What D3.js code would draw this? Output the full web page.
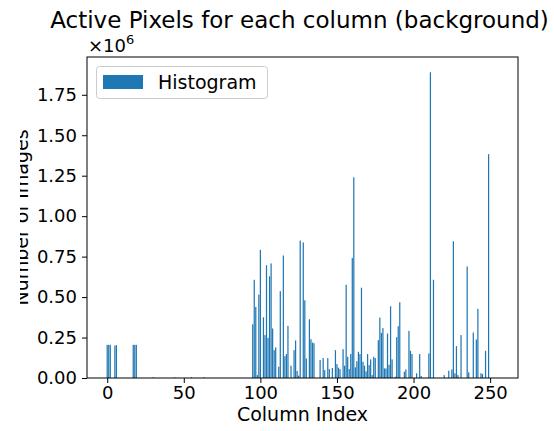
<!DOCTYPE html>
<html>
<head>
<meta charset="utf-8">
<script src="https://cdn.jsdelivr.net/npm/d3@7"></script>
<style>
  body { margin: 0; background: #fff; }
  text { font-family: "DejaVu Sans", sans-serif; fill: #000; }
</style>
</head>
<body>
<svg id="chart" width="554" height="431"></svg>
<script>
// Columns (0..255) that have any active background pixels, and their counts.
const activeColumns = [
  0, 1, 2, 5, 6, 17, 18, 19, 30, 44, 55, 63,
  95, 96, 97, 98, 99, 100, 102, 103, 104, 105, 106, 107, 108, 109, 110,
  112, 113, 115, 116, 117, 118, 120, 122, 123, 124, 125, 126, 128, 129,
  130, 132, 133, 134, 135, 139, 141, 142, 144, 145, 147, 149, 150, 151,
  152, 154, 155, 156, 157, 158, 159, 160, 161, 162, 163, 164, 165, 166,
  167, 168, 169, 170, 171, 172, 173, 174, 175, 177, 178, 179, 180, 181,
  182, 183, 184, 185, 186, 188, 189, 190, 191, 194, 195, 197, 198, 199,
  202, 204, 205, 210, 211, 213, 220, 223, 225, 226, 227, 228, 229, 231,
  235, 236, 239, 241, 242, 244, 245, 247, 249
];
const activeCounts = [
  205000, 205000, 205000, 200000, 203000, 205000, 205000, 205000, 5000, 4000, 5000, 4000,
  332000, 607000, 439000, 18000, 515000, 792000, 375000, 265000, 697000, 248000, 628000, 708000, 306000, 172000, 189000,
  70000, 537000, 757000, 135000, 148000, 322000, 76000, 172000, 232000, 43000, 15000, 849000, 838000, 480000,
  121000, 363000, 240000, 219000, 215000, 111000, 123000, 49000, 123000, 55000, 62000, 172000, 86000, 64000,
  55000, 178000, 76000, 576000, 131000, 55000, 148000, 742000, 1240000, 66000, 103000, 162000, 148000, 558000,
  100000, 76000, 41000, 148000, 80000, 115000, 18000, 131000, 123000, 234000, 373000, 279000, 308000, 59000,
  59000, 275000, 82000, 443000, 115000, 8000, 252000, 320000, 468000, 39000, 53000, 291000, 168000, 148000,
  29000, 148000, 12000, 152000, 1889000, 607000, 18000, 45000, 53000, 845000, 29000, 197000, 18000, 265000,
  689000, 35000, 281000, 238000, 427000, 29000, 25000, 168000, 1383000
];
const columnCount = 256;
const xTicks = [0, 50, 100, 150, 200, 250];
const yTicks = [0, 250000, 500000, 750000, 1000000, 1250000, 1500000, 1750000];

const titleText = "Active Pixels for each column (background)";
const xLabelText = "Column Index";
const yLabelText = "Number of Images";
const legendText = "Histogram";
const barColor = "#1f77b4";

const bars = activeColumns.map((c, i) => ({ col: c, count: activeCounts[i] }));

const svg = d3.select("#chart");
const plot = { left: 87, right: 518, top: 57, bottom: 378 };

// bar width 0.8 with 5% padding on each side of the data span
const barW = 0.8;
const lo = -barW / 2, hi = (columnCount - 1) + barW / 2;
const pad = (hi - lo) * 0.05;
const x = d3.scaleLinear().domain([lo - pad, hi + pad]).range([plot.left, plot.right]);
const yMax = d3.max(activeCounts) * 1.05;
const y = d3.scaleLinear().domain([0, yMax]).range([plot.bottom, plot.top]);

svg.append("rect").attr("width", 554).attr("height", 431).attr("fill", "#fff");

// bars
svg.append("g").selectAll("rect").data(bars).join("rect")
  .attr("x", d => x(d.col - barW / 2))
  .attr("width", d => x(d.col + barW / 2) - x(d.col - barW / 2))
  .attr("y", d => y(d.count))
  .attr("height", d => y(0) - y(d.count))
  .attr("fill", barColor);

// axes
const fmtY = v => (v / 1e6).toFixed(2);
const xAxis = svg.append("g")
  .attr("transform", `translate(0,${plot.bottom})`)
  .call(d3.axisBottom(x).tickValues(xTicks).tickSize(5).tickPadding(3).tickFormat(d3.format("d")));
const yAxis = svg.append("g")
  .attr("transform", `translate(${plot.left},0)`)
  .call(d3.axisLeft(y).tickValues(yTicks).tickSize(5).tickPadding(5).tickFormat(fmtY));
[xAxis, yAxis].forEach(g => {
  g.select(".domain").remove();
  g.selectAll(".tick line").attr("stroke", "#000").attr("stroke-width", 1);
  g.selectAll(".tick text").attr("font-size", 18).attr("font-family", "DejaVu Sans").attr("fill", "#000");
});

// frame
svg.append("rect")
  .attr("x", plot.left).attr("y", plot.top)
  .attr("width", plot.right - plot.left).attr("height", plot.bottom - plot.top)
  .attr("fill", "none").attr("stroke", "#000").attr("stroke-width", 1);

// offset text
const off = svg.append("text").attr("x", plot.left + 1).attr("y", 52).attr("font-size", 18);
off.append("tspan").text("×10");
off.append("tspan").attr("font-size", 13).attr("dy", -8).text("6");

// title
svg.append("text").attr("x", (plot.left + plot.right) / 2 - 3).attr("y", 28)
  .attr("text-anchor", "middle").attr("font-size", 23).text(titleText);

// x label
svg.append("text").attr("x", (plot.left + plot.right) / 2).attr("y", 421)
  .attr("text-anchor", "middle").attr("font-size", 19).text(xLabelText);

// y label, cut at the left edge of the figure
svg.append("clipPath").attr("id", "ylabClip")
  .append("rect").attr("x", 20).attr("y", 0).attr("width", 60).attr("height", 431);
svg.append("g").attr("clip-path", "url(#ylabClip)")
  .append("text")
  .attr("transform", `translate(28,${(plot.top + plot.bottom) / 2}) rotate(-90)`)
  .attr("text-anchor", "middle").attr("font-size", 19).text(yLabelText);

// legend
const lg = svg.append("g");
lg.append("rect").attr("x", 96.5).attr("y", 66.5).attr("width", 171).attr("height", 32)
  .attr("rx", 3).attr("fill", "#fff").attr("fill-opacity", 0.8)
  .attr("stroke", "#ccc").attr("stroke-width", 1);
lg.append("rect").attr("x", 103).attr("y", 75).attr("width", 40).attr("height", 14).attr("fill", barColor);
lg.append("text").attr("x", 158).attr("y", 89).attr("font-size", 19).text(legendText);
</script>
</body>
</html>
